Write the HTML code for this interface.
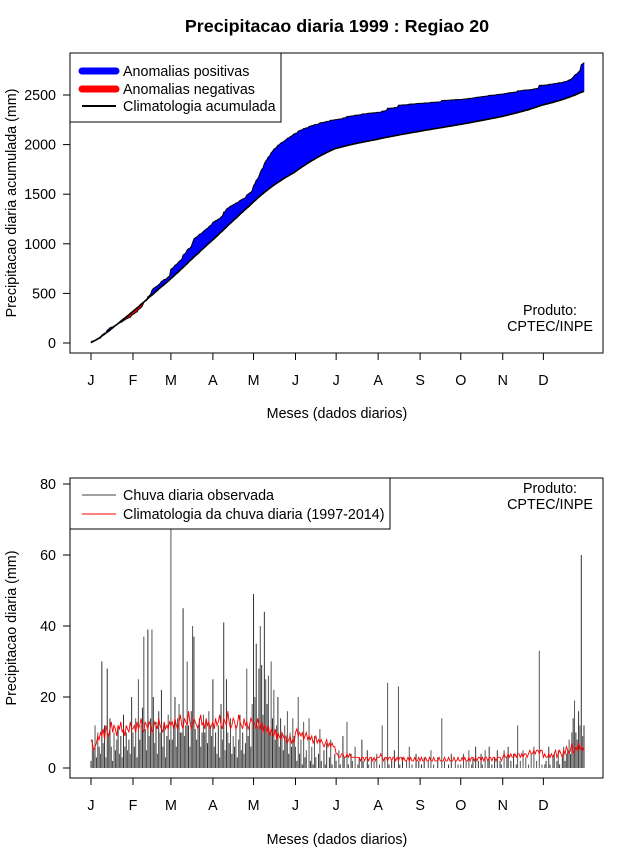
<!DOCTYPE html>
<html><head><meta charset="utf-8"><style>
body{margin:0;background:#fff;}
svg text{font-family:"Liberation Sans",sans-serif;}
</style></head><body>
<svg id="c" width="640" height="850" xmlns="http://www.w3.org/2000/svg"></svg>
<script>
const monthLabels=["J","F","M","A","M","J","J","A","S","O","N","D"];
const monthStarts=[1,32,60,91,121,152,182,213,244,274,305,335];
const topTicks=[0,500,1000,1500,2000,2500];
const botTicks=[0,20,40,60,80];
const obsDaily=[
2,8,5,12,3,10,6,4,30,7,12,3,28,9,14,6,2,10,5,8,12,4,9,3,15,6,10,5,8,4,20,
10,6,14,3,25,8,12,17,37,11,5,39,9,14,39,20,7,13,4,16,10,22,6,12,3,9,15,8,
70,8,12,20,6,14,18,10,10,45,9,12,30,12,6,16,40,37,11,8,12,14,6,10,15,10,13,7,16,12,9,
25,6,10,4,12,3,18,8,41,5,25,10,7,14,4,9,6,12,3,8,15,5,10,4,7,28,9,12,6,18,
49,20,35,12,28,40,29,15,44,25,18,26,10,30,14,22,8,12,20,6,14,10,5,12,8,16,4,10,6,14,9,
6,2,20,4,8,1,13,3,5,0,14,2,6,1,9,3,0,4,11,2,0,5,1,7,0,3,8,1,0,4,
2,0,5,1,0,9,3,0,13,1,0,4,2,0,6,0,1,3,0,8,2,0,0,5,1,0,3,0,2,0,4,
0,1,0,12,0,3,0,24,1,0,2,0,5,0,0,23,1,0,3,0,0,2,0,6,0,1,0,0,4,0,2,
0,1,0,3,0,0,2,0,5,0,1,0,0,3,0,0,14,0,2,0,0,1,0,4,0,0,2,0,1,0,
1,0,4,0,2,0,5,0,1,3,0,6,0,2,0,4,1,0,5,0,2,6,0,1,0,3,0,5,0,2,1,
0,5,0,3,6,0,2,0,4,0,1,12,0,2,0,5,0,3,0,1,0,4,0,6,0,2,0,33,0,1,
0,1,2,0,6,1,0,3,4,0,2,5,1,0,3,6,2,4,5,8,4,10,14,19,10,8,16,12,60,9,12];
const climDaily=[
8,7,5,6,7,9,8,10,9,11,8,12,10,9,11,13,10,12,11,9,12,11,13,10,11,9,12,11,10,13,11,
11,12,10,13,11,12,14,11,10,13,12,11,13,12,10,11,13,12,11,14,12,11,10,13,11,12,11,13,
12,13,11,14,12,11,13,15,12,11,14,13,12,16,13,11,12,14,13,12,11,13,15,12,13,11,14,12,13,11,12,
13,11,14,12,13,15,12,11,14,13,12,16,13,11,12,14,13,11,12,15,13,12,11,14,12,13,11,12,14,13,
13,12,11,14,12,11,13,10,12,11,10,12,9,11,10,9,11,8,10,9,8,10,9,8,9,7,8,9,7,8,7,
10,11,9,10,9,10,8,9,10,8,9,8,9,7,8,9,7,8,7,8,7,6,7,8,6,7,6,7,6,6,
4,4,3,3,4,4,3,3,4,3,4,3,3,3,3,3,3,3,2,3,3,2,3,3,2,3,3,2,3,2,3,
3,3,4,3,2,3,3,2,3,3,2,3,3,2,3,2,3,3,2,3,2,2,3,2,3,2,2,3,2,2,3,
2,3,2,2,3,2,2,3,2,2,3,2,2,2,3,2,2,2,3,2,2,3,2,2,2,3,2,2,3,2,
2,3,2,3,2,2,3,2,3,3,2,3,2,3,3,2,3,2,3,3,2,3,3,2,3,3,2,3,3,3,2,
3,4,3,3,4,3,4,3,3,4,3,4,4,3,4,3,4,4,3,4,5,4,4,5,4,5,5,4,5,5,
3,4,3,3,4,3,4,3,4,5,3,4,5,4,3,5,4,6,5,4,5,7,4,5,6,5,7,5,6,5,6];

const svg=document.getElementById('c');
const NS='http://www.w3.org/2000/svg';
const FS='14.3';
function mk(tag,attrs,parent){const e=document.createElementNS(NS,tag);for(const k in attrs)e.setAttribute(k,attrs[k]);(parent||svg).appendChild(e);return e;}
function txt(s,x,y,attrs,parent){const t=mk('text',Object.assign({x:x,y:y},attrs),parent);t.textContent=s;return t;}
const xd=d=>91+(d-1)*(584-91)/364;
const yT=v=>343-v*49.6/500;
const yB=v=>768-v*71/20;

const cumObs=[],cumClim=[];let so=0,sc=0;
for(let i=0;i<365;i++){so+=obsDaily[i];sc+=climDaily[i];cumObs.push(so);cumClim.push(sc);}

const gTop=mk('g',{});


const t1=txt('Precipitacao diaria 1999 : Regiao 20',337,32,{'text-anchor':'middle','font-size':'17.9','font-weight':'bold'},gTop);


const gA=mk('g',{},gTop);


for(let i=0;i<364;i++){
  const pos=(cumObs[i]+cumObs[i+1])>=(cumClim[i]+cumClim[i+1]);
  const col=pos?'#0000ff':'#ff0000';
  const p=mk('polygon',{points:`${xd(i+1)},${yT(cumObs[i])} ${xd(i+2)},${yT(cumObs[i+1])} ${xd(i+2)},${yT(cumClim[i+1])} ${xd(i+1)},${yT(cumClim[i])}`,fill:col,stroke:col,'stroke-width':'0.6'},gA);
  
  
}
let po='',pc='';
for(let i=0;i<365;i++){po+=`${xd(i+1)},${yT(cumObs[i])} `;pc+=`${xd(i+1)},${yT(cumClim[i])} `;}
const lo=mk('polyline',{points:po,fill:'none',stroke:'#000','stroke-width':'1'},gTop);


const lc=mk('polyline',{points:pc,fill:'none',stroke:'#000','stroke-width':'1.6'},gTop);



function axes(g,y0,y1,yTicks,yf,xTitleY,yTitle,yTitleX,yTitleY){
  const b=mk('rect',{x:70,y:y0,width:533,height:y1-y0,fill:'none',stroke:'#000','stroke-width':'1'},g);
  
  
  const ax=mk('g',{},g);
  
  
  mk('line',{x1:xd(1),x2:xd(monthStarts[11]),y1:y1,y2:y1,stroke:'#000'},ax);
  monthStarts.forEach((d,i)=>{
    mk('line',{x1:xd(d),x2:xd(d),y1:y1,y2:y1+7,stroke:'#000'},ax);
    const t=txt(monthLabels[i],xd(d),y1+32,{'text-anchor':'middle','font-size':FS},ax);
    
    
  });
  const ay=mk('g',{},g);
  
  
  mk('line',{x1:70,x2:70,y1:yf(yTicks[0]),y2:yf(yTicks[yTicks.length-1]),stroke:'#000'},ay);
  yTicks.forEach(v=>{
    mk('line',{x1:63,x2:70,y1:yf(v),y2:yf(v),stroke:'#000'},ay);
    const t=txt(String(v),56,yf(v)+5,{'text-anchor':'end','font-size':FS},ay);
    
    
  });
  const xt=txt('Meses (dados diarios)',337,xTitleY,{'text-anchor':'middle','font-size':FS},g);
  
  
  const yt=txt(yTitle,yTitleX,yTitleY,{'text-anchor':'middle','font-size':FS,transform:`rotate(-90 ${yTitleX} ${yTitleY})`},g);
  
  
}
axes(gTop,53,353,topTicks,yT,418,'Precipitacao diaria acumulada (mm)',16,203);

function produto(g,y){
  const p=mk('g',{},g);
  
  
  txt('Produto:',550,y,{'text-anchor':'middle','font-size':FS},p);
  txt('CPTEC/INPE',550,y+16,{'text-anchor':'middle','font-size':FS},p);
}
produto(gTop,315);

function legend(g,x,y,w,h,items){
  const L=mk('g',{},g);
  
  
  mk('rect',{x:x,y:y,width:w,height:h,fill:'#fff',stroke:'#000'},L);
  items.forEach((it,i)=>{
    const e=mk('g',{},L);
    
    
    const yy=y+it.dy;
    mk('line',{x1:x+12,x2:x+46,y1:yy,y2:yy,stroke:it.c,'stroke-width':it.w,'stroke-linecap':it.w>3?'round':'butt'},e);
    txt(it.t,x+53,yy+5,{'font-size':FS},e);
  });
}
legend(gTop,70,53,211,69,[
 {t:'Anomalias positivas',c:'#0000ff',w:7,dy:18},
 {t:'Anomalias negativas',c:'#ff0000',w:7,dy:36},
 {t:'Climatologia acumulada',c:'#000',w:2,dy:53}]);

const gB=mk('g',{});


const gBars=mk('g',{},gB);


for(let i=0;i<365;i++){
  if(obsDaily[i]<=0)continue;
  const x=xd(i+1);
  const l=mk('line',{x1:x,x2:x,y1:yB(0),y2:Math.max(yB(obsDaily[i]),478),stroke:i%2?'#555':'#333','stroke-width':'1'},gBars);
  
  
}
let pr='';
for(let i=0;i<365;i++)pr+=`${xd(i+1)},${yB(climDaily[i])} `;
const rl=mk('polyline',{points:pr,fill:'none',stroke:'#ff0000','stroke-width':'0.9'},gB);


axes(gB,478,778,botTicks,yB,844,'Precipitacao diaria (mm)',16,628);
produto(gB,493);
legend(gB,70,478,320,51,[
 {t:'Chuva diaria observada',c:'#444',w:1,dy:17},
 {t:'Climatologia da chuva diaria (1997-2014)',c:'#ff0000',w:1,dy:36}]);
</script>
</body></html>
